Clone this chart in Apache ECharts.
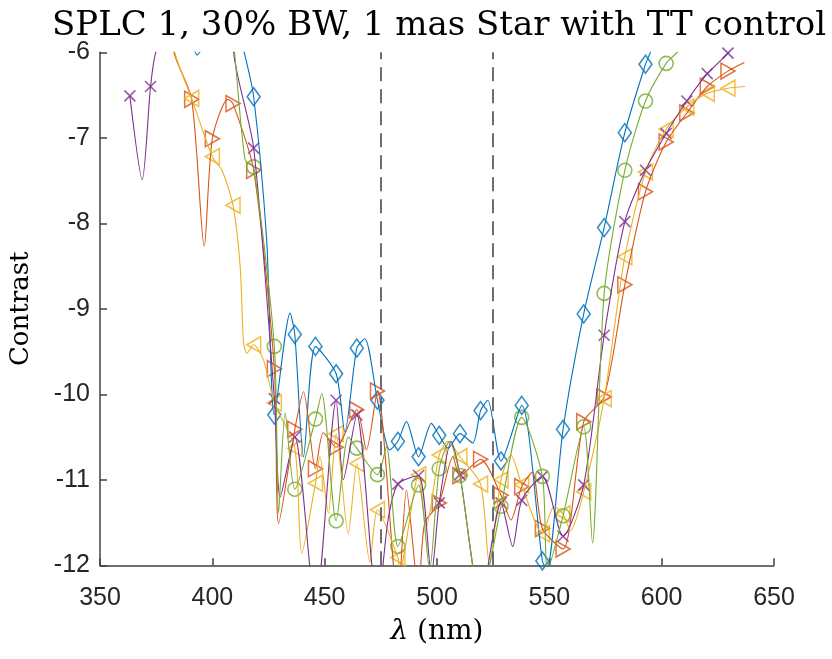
<!DOCTYPE html>
<html>
<head>
<meta charset="utf-8">
<script src="https://cdn.jsdelivr.net/npm/echarts@6/dist/echarts.min.js"></script>
<style>
  html, body { margin: 0; padding: 0; background: #fff; }
  #chart { width: 832px; height: 659px; }
</style>
</head>
<body>
<div id="chart"></div>
<script>
// wavelengths (nm) where markers are drawn, shared by all curves
var markX = [363.3, 372.5, 381.7, 390.8, 400.0, 409.2, 418.4, 427.6, 436.7, 445.9,
             455.1, 464.3, 473.5, 482.6, 491.8, 501.0, 510.2, 519.4, 528.5, 537.7,
             546.9, 556.1, 565.3, 574.4, 583.6, 592.8, 602.0, 611.2, 620.3, 629.5];

// contrast at each marker (null = no data there)
var blueMarks   = [null, null, -5.5, -5.9, -5.7, -5.5, -6.52, -10.24, -9.30, -9.44,
                   -9.76, -9.46, -10.07, -10.55, -10.73, -10.48, -10.46, -10.19, -10.78, -10.13,
                   -11.95, -10.41, -9.06, -8.05, -6.94, -6.14, -5.5, null, null, null];
var orangeMarks = [null, null, -5.5, -6.55, -7.01, -6.60, -7.38, -9.70, -10.41, -10.87,
                   -10.62, -10.18, -9.96, -12.4, -12.3, -11.27, -10.95, -10.76, -11.18, -11.08,
                   -11.57, -11.81, -10.32, -10.03, -8.72, -7.63, -7.05, -6.71, -6.40, -6.22];
var yellowMarks = [null, null, -5.5, -6.54, -7.22, -7.79, -9.42, -10.10, -10.63, -11.04,
                   -10.46, -10.81, -11.35, -11.91, -10.94, -10.71, -10.73, -11.05, -11.00, -11.06,
                   -11.63, -11.40, -11.14, -10.05, -8.39, -7.40, -6.90, -6.64, -6.48, -6.42];
var purpleMarks = [-6.51, -6.40, -5.5, -5.3, -5.3, -5.6, -7.12, -10.05, -10.50, -12.5,
                   -10.07, -10.24, -12.5, -11.05, -10.95, -11.27, -10.94, -12.4, -11.27, -11.24,
                   -10.96, -11.66, -11.06, -9.31, -7.98, -7.38, -6.95, -6.57, -6.25, -6.01];
var greenMarks  = [null, null, null, -5.4, -5.4, -5.85, -7.34, -9.44, -11.11, -10.29,
                   -11.48, -10.63, -10.94, -11.78, -11.06, -10.87, -10.95, -12.4, -11.31, -10.27,
                   -10.96, -11.42, -10.38, -8.82, -7.38, -6.57, -6.13, -5.8, null, null];

// extra points of each curve between markers [nm, contrast]
var blueExtra = [[393.2, -6.03], [414.2, -6.0], [424.2, -8.2], [434.6, -9.05], [440.6, -10.73],
                 [459.0, -10.44], [467.9, -9.35], [479.0, -10.65], [486.4, -10.32], [497.5, -10.34],
                 [504.9, -10.63], [515.9, -10.57], [522.6, -10.07], [548.9, -12.05], [595.0, -6.0]];
var orangeExtra = [[382.9, -6.0], [396.4, -8.27], [406.9, -6.55], [429.5, -11.51], [440.6, -9.97],
                   [449.4, -10.45], [468.6, -10.65], [486.4, -11.12], [494.5, -11.51], [507.1, -10.73],
                   [532.9, -11.47], [542.5, -10.91], [636.8, -6.12]];
var yellowExtra = [[383.3, -6.0], [404.3, -7.38], [412.4, -8.51], [413.9, -9.40], [415.4, -9.52],
                   [422.8, -9.60], [439.8, -11.86], [447.9, -10.73], [451.6, -11.39], [460.5, -11.63],
                   [470.1, -11.96], [483.4, -12.05], [495.2, -11.55], [504.9, -10.55], [523.3, -11.98],
                   [532.9, -10.71], [552.1, -11.31], [559.5, -11.59], [637.1, -6.40]];
var purpleExtra = [[368.8, -7.49], [374.8, -6.0], [409.5, -6.0], [430.2, -11.20], [458.3, -11.0],
                   [478.2, -11.47], [497.5, -12.1], [506.3, -10.55], [533.7, -11.78], [636.5, -5.75]];
var greenExtra = [[409.9, -6.0], [414.6, -7.26], [429.5, -11.39], [432.4, -10.22], [448.7, -9.99],
                  [460.5, -10.50], [477.5, -10.61], [496.7, -12.05], [505.6, -10.55], [549.2, -12.05],
                  [569.2, -11.74], [606.8, -6.0]];

var dashX = [475, 525];

var curves = [
    { marks: blueMarks,   extra: blueExtra,   color: '#0072BD', symbol: 'diamond',  size: [13, 18], rotate: 0 },
    { marks: orangeMarks, extra: orangeExtra, color: '#D95319', symbol: 'triangle', size: [16, 14], rotate: -90 },
    { marks: yellowMarks, extra: yellowExtra, color: '#EDB120', symbol: 'triangle', size: [16, 14], rotate: 90 },
    { marks: purpleMarks, extra: purpleExtra, color: '#7E2F8E', symbol: 'path://M0,0L10,10M10,0L0,10', size: 11, rotate: 0 },
    { marks: greenMarks,  extra: greenExtra,  color: '#77AC30', symbol: 'circle',   size: 14, rotate: 0 }
];

function markPoints(marks) {
    var ret = [];
    marks.forEach(function(y, i) {
        if (y !== null) ret.push([markX[i], y]);
    });
    return ret;
}

function linePoints(marks, extra) {
    var pts = markPoints(marks).concat(extra);
    pts.sort(function(a, b) { return a[0] - b[0]; });
    return pts;
}

var serif = 'DejaVu Serif';
var axisColor = '#404040';

var series = [];
curves.forEach(function(c, idx) {
    var line = {
        type: 'line',
        data: linePoints(c.marks, c.extra),
        showSymbol: false,
        smooth: 0.25,
        clip: true,
        lineStyle: { color: c.color, width: 1.1 },
        silent: true
    };
    if (idx === 0) {
        line.markLine = {
            silent: true,
            symbol: ['none', 'none'],
            label: { show: false },
            lineStyle: { color: '#5f5f5f', width: 1.8, type: [14, 8] },
            data: dashX.map(function(x) { return { xAxis: x }; })
        };
    }
    series.push(line);
    series.push({
        type: 'scatter',
        data: markPoints(c.marks),
        symbol: c.symbol,
        symbolSize: c.size,
        symbolRotate: c.rotate,
        clip: true,
        itemStyle: { color: 'rgba(0,0,0,0)', borderColor: c.color, borderWidth: 1.6 },
        silent: true
    });
});

var chart = echarts.init(document.getElementById('chart'));
chart.setOption({
    animation: false,
    title: {
        text: 'SPLC 1, 30% BW, 1 mas Star with TT control',
        left: 47,
        top: 4,
        textStyle: { fontFamily: serif, fontSize: 34, fontWeight: 'normal', color: '#000' }
    },
    grid: { left: 97.5, right: 58, top: 52.3, bottom: 93.7 },
    xAxis: {
        type: 'value',
        min: 350,
        max: 650,
        interval: 50,
        name: '{i|λ} (nm)',
        nameLocation: 'middle',
        nameGap: 52,
        nameTextStyle: {
            fontFamily: serif, fontSize: 28, color: '#000',
            rich: { i: { fontFamily: serif, fontSize: 28, fontStyle: 'italic', color: '#000' } }
        },
        axisLine: { lineStyle: { color: axisColor, width: 1.5 } },
        axisTick: { inside: true, length: 7, lineStyle: { color: axisColor, width: 1.5 } },
        axisLabel: { fontFamily: 'Liberation Sans', fontSize: 25, color: '#262626', margin: 20 },
        splitLine: { show: false }
    },
    yAxis: {
        type: 'value',
        min: -12,
        max: -6,
        interval: 1,
        name: 'Contrast',
        nameLocation: 'middle',
        nameRotate: 90,
        nameGap: 66,
        nameTextStyle: { fontFamily: serif, fontSize: 26, color: '#000' },
        axisLine: { lineStyle: { color: axisColor, width: 1.5 } },
        axisTick: { inside: true, length: 7, lineStyle: { color: axisColor, width: 1.5 } },
        axisLabel: { fontFamily: 'Liberation Sans', fontSize: 25, color: '#262626', margin: 10 },
        splitLine: { show: false }
    },
    series: series
});
</script>
</body>
</html>
